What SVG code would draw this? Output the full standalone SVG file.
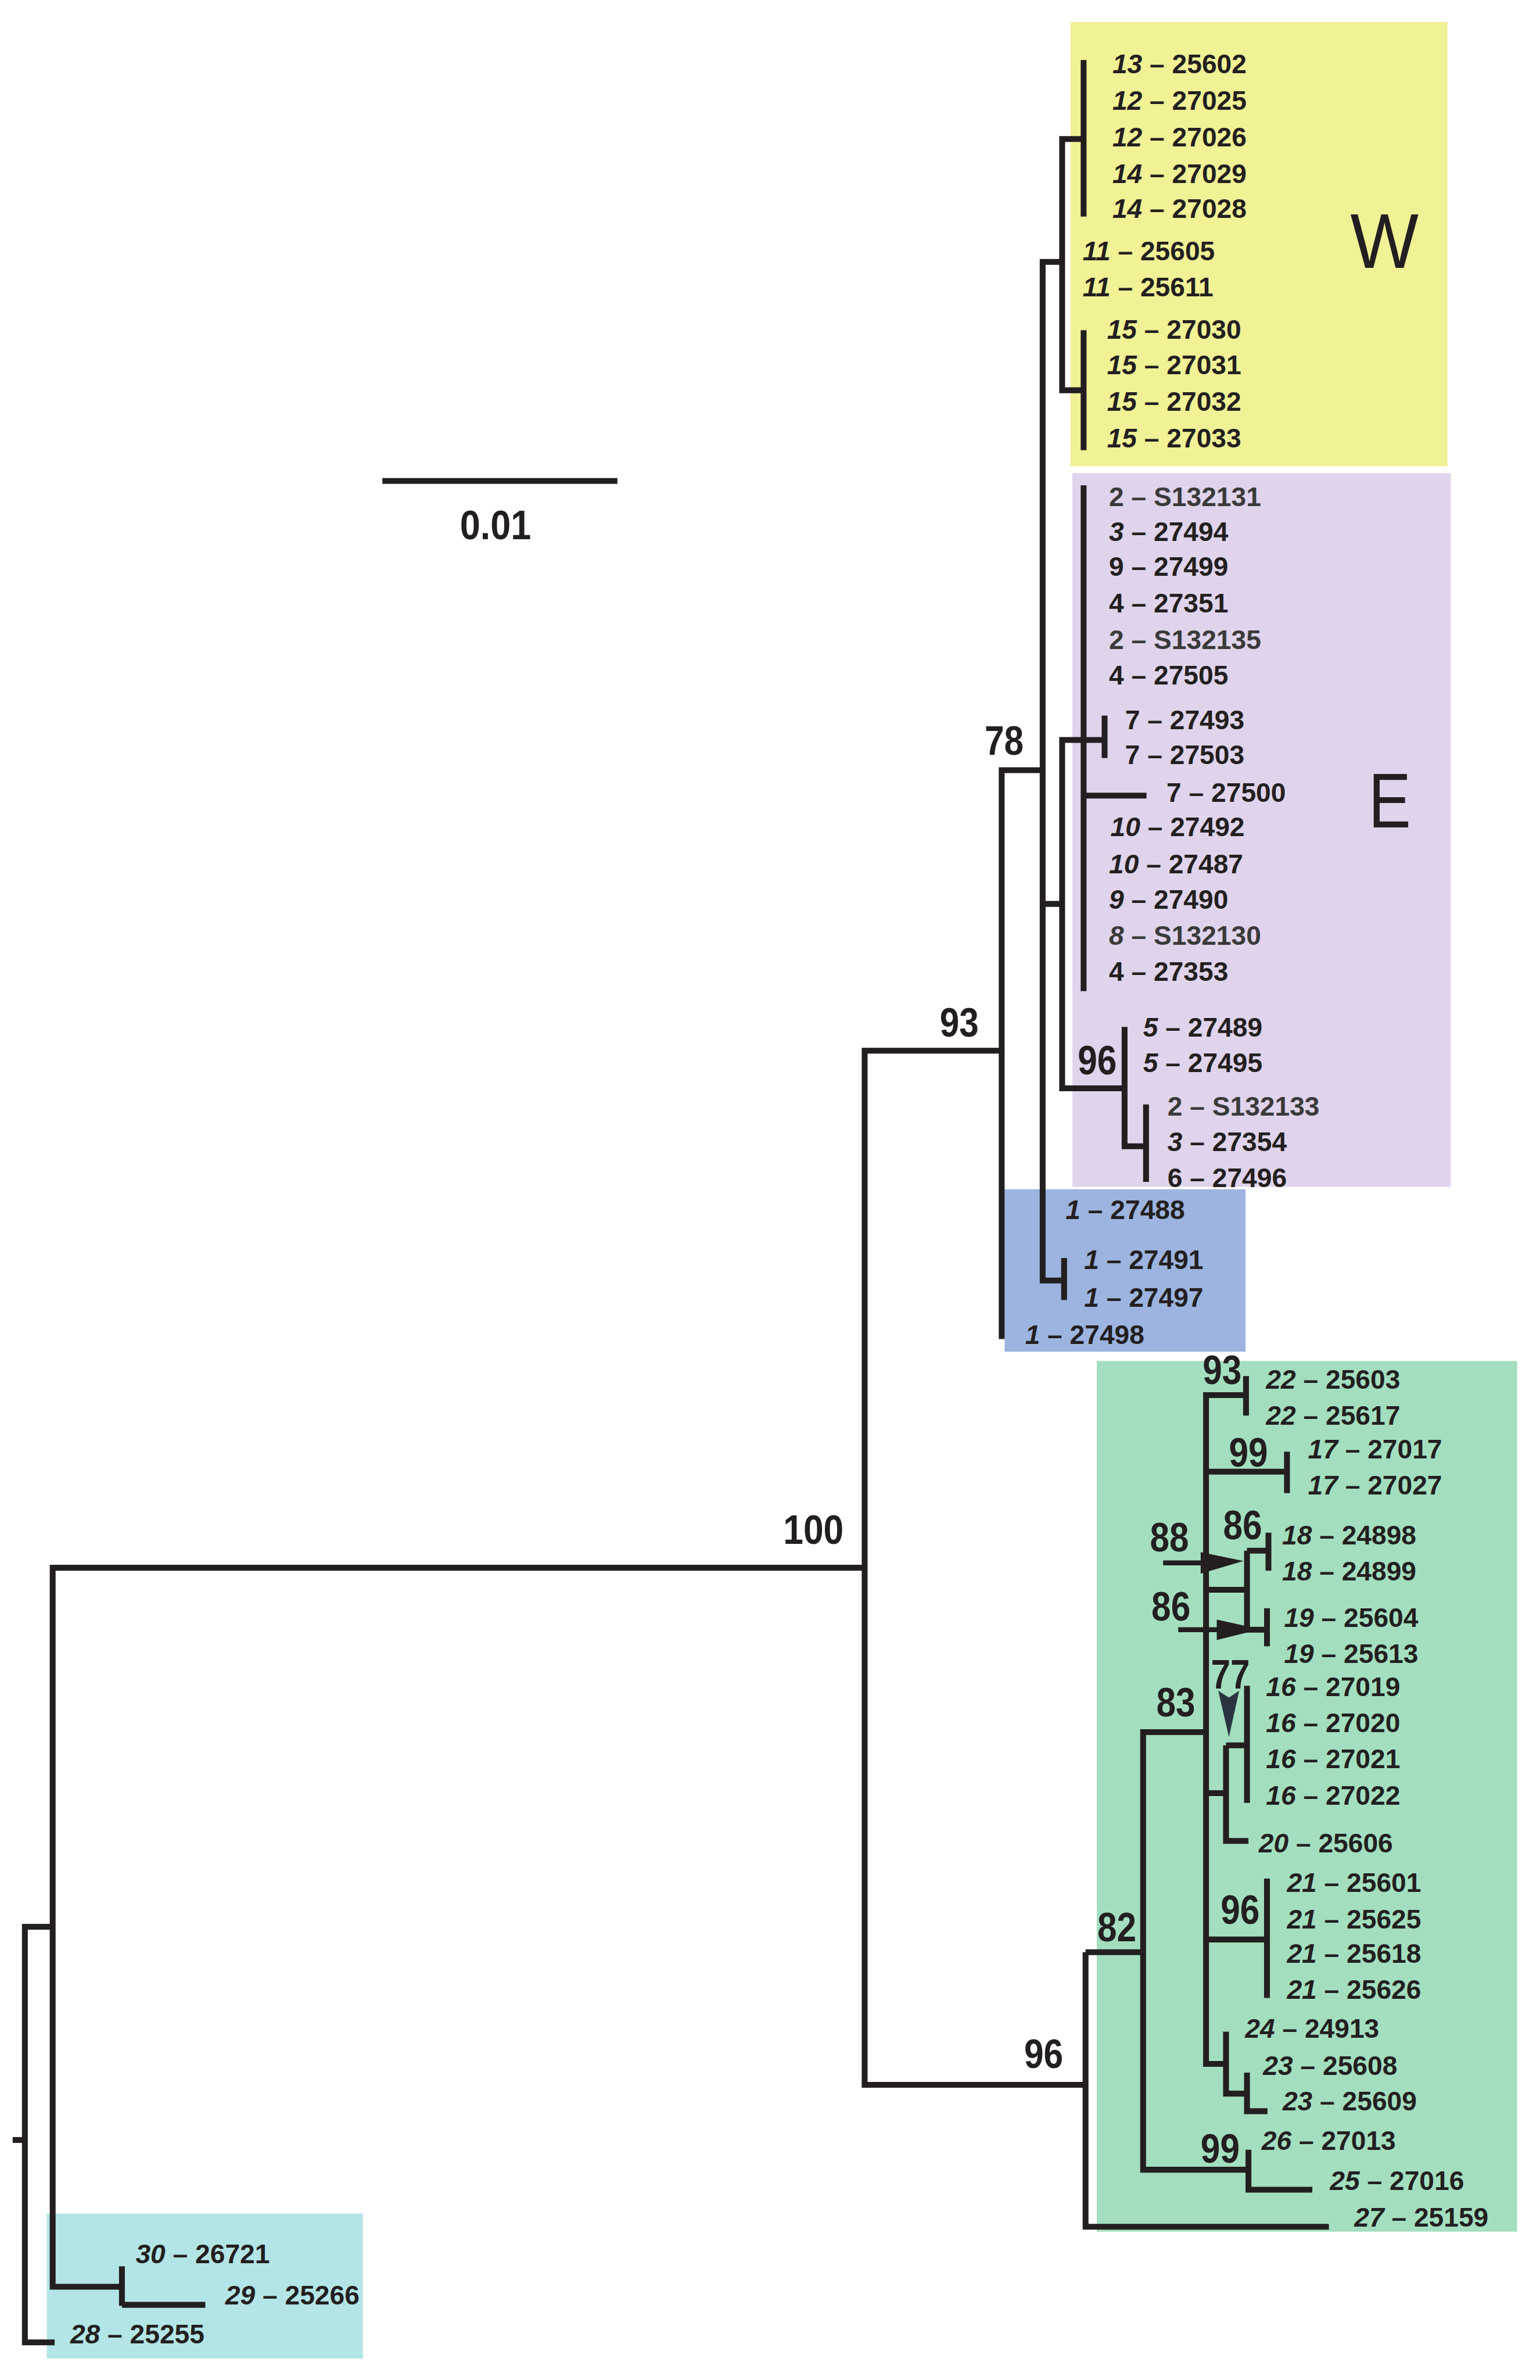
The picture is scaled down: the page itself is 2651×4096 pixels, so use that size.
<svg xmlns="http://www.w3.org/2000/svg" width="2651" height="4096" viewBox="0 0 2651 4096">
<style>
.lf{font-family:"Liberation Sans",Arial,sans-serif;font-weight:bold;font-size:55px;fill:#231f20}
.s{fill:#3a3a3a}
.it{font-style:italic}
.sp{font-family:"Liberation Sans",Arial,sans-serif;font-weight:bold;font-size:84px;fill:#231f20}
.big{font-family:"Liberation Sans",Arial,sans-serif;font-weight:normal;font-size:160px;fill:#231f20}
.br{fill:none;stroke:#231f20;stroke-width:12;stroke-linejoin:miter;stroke-linecap:butt}
</style>
<rect width="2651" height="4096" fill="#ffffff"/>
<g transform="scale(0.8395)">
<g id="backgrounds">
<rect x="2195" y="45" width="773" height="911" fill="#f1f196"/>
<rect x="2199" y="970" width="776" height="1463" fill="#dfd4ec"/>
<rect x="2060" y="2438" width="494" height="333" fill="#9cb4df"/>
<rect x="2249" y="2790" width="862" height="1785" fill="#a3dfbf"/>
<rect x="96" y="4538" width="648" height="297" fill="#b3e5e6"/>
</g>
<g id="connectors" class="br">
<path d="M26 4387 H51"/>
<path d="M108 3950 H51 V4802 H112"/>
<path d="M1773 3214 H108 V4688 H250"/>
<path d="M250 4646 V4727"/>
<path d="M250 4725 H421"/>
<path d="M2054 2154 H1773 V4274 H2226"/>
<path d="M2138 1579 H2054 V2745"/>
<path d="M2178 537 H2138 V2625 H2182"/>
<path d="M2182 2579 V2665"/>
<path d="M2222 285 H2178 V800 H2222"/>
<path d="M2222 123 V444"/>
<path d="M2222 677 V923"/>
<path d="M2138 1853 H2178"/>
<path d="M2265 1517 H2178 V2231 H2306"/>
<path d="M2222 995 V2032"/>
<path d="M2265 1467 V1554"/>
<path d="M2221 1631 H2351"/>
<path d="M2306 2105 V2350 H2350"/>
<path d="M2350 2264 V2423"/>
<path d="M2226 4002 H2344"/>
<path d="M2473 3551 H2344 V4448 H2560"/>
<path d="M2226 4002 V4565 H2725"/>
<path d="M2560 4407 V4489 H2691"/>
<path d="M2555 2821 V2902"/>
<path d="M2555 2860 H2473 V4231 H2514"/>
<path d="M2514 4165 V4292 H2557"/>
<path d="M2557 4249 V4328 H2599"/>
<path d="M2473 3017 H2639"/>
<path d="M2639 2976 V3061"/>
<path d="M2473 3259 H2557"/>
<path d="M2557 3179 V3341 H2598"/>
<path d="M2557 3179 H2601"/>
<path d="M2601 3142 V3220"/>
<path d="M2598 3297 V3375"/>
<path d="M2473 3676 H2514"/>
<path d="M2514 3578 V3774 H2560"/>
<path d="M2514 3578 H2557"/>
<path d="M2557 3456 V3696"/>
<path d="M2473 3976 H2598"/>
<path d="M2598 3851 V4096"/>
</g>
<g id="arrows">
<path d="M2385 3204 H2470" stroke="#231f20" stroke-width="10"/>
<polygon points="2462,3182 2550,3200 2462,3226" fill="#231f20"/>
<path d="M2416 3341 H2500" stroke="#231f20" stroke-width="10"/>
<polygon points="2495,3320 2584,3340 2495,3362" fill="#231f20"/>
<polygon points="2498,3466 2520,3480 2541,3466 2520,3561" fill="#2a3440"/>
</g>
<g id="scale-bar">
<path d="M784 986 H1266" stroke="#231f20" stroke-width="12"/>
<text class="sp" x="1016" y="1106" text-anchor="middle" textLength="146" lengthAdjust="spacingAndGlyphs">0.01</text>
</g>
<g id="clade-labels">
<text class="big" x="2769" y="549" textLength="140" lengthAdjust="spacingAndGlyphs">W</text>
<text class="big" x="2806" y="1696" textLength="87" lengthAdjust="spacingAndGlyphs">E</text>
</g>
<g id="support-values">
<text class="sp" x="1606" y="3165" textLength="124" lengthAdjust="spacingAndGlyphs">100</text>
<text class="sp" x="1927" y="2125" textLength="80" lengthAdjust="spacingAndGlyphs">93</text>
<text class="sp" x="2019" y="1547" textLength="80" lengthAdjust="spacingAndGlyphs">78</text>
<text class="sp" x="2210" y="2202" textLength="80" lengthAdjust="spacingAndGlyphs">96</text>
<text class="sp" x="2100" y="4240" textLength="80" lengthAdjust="spacingAndGlyphs">96</text>
<text class="sp" x="2250" y="3980" textLength="80" lengthAdjust="spacingAndGlyphs">82</text>
<text class="sp" x="2462" y="4434" textLength="80" lengthAdjust="spacingAndGlyphs">99</text>
<text class="sp" x="2503" y="3944" textLength="80" lengthAdjust="spacingAndGlyphs">96</text>
<text class="sp" x="2466" y="2837" textLength="80" lengthAdjust="spacingAndGlyphs">93</text>
<text class="sp" x="2520" y="3006" textLength="80" lengthAdjust="spacingAndGlyphs">99</text>
<text class="sp" x="2508" y="3155" textLength="80" lengthAdjust="spacingAndGlyphs">86</text>
<text class="sp" x="2358" y="3180" textLength="80" lengthAdjust="spacingAndGlyphs">88</text>
<text class="sp" x="2361" y="3322" textLength="80" lengthAdjust="spacingAndGlyphs">86</text>
<text class="sp" x="2483" y="3462" textLength="80" lengthAdjust="spacingAndGlyphs">77</text>
<text class="sp" x="2371" y="3519" textLength="80" lengthAdjust="spacingAndGlyphs">83</text>
</g>
<g id="leaves">
<g id="leaf-13-25602"><text class="lf" x="2281" y="150"><tspan class="it">13</tspan> – 25602</text></g>
<g id="leaf-12-27025"><text class="lf" x="2281" y="225"><tspan class="it">12</tspan> – 27025</text></g>
<g id="leaf-12-27026"><text class="lf" x="2281" y="300"><tspan class="it">12</tspan> – 27026</text></g>
<g id="leaf-14-27029"><text class="lf" x="2281" y="375"><tspan class="it">14</tspan> – 27029</text></g>
<g id="leaf-14-27028"><text class="lf" x="2281" y="447"><tspan class="it">14</tspan> – 27028</text></g>
<g id="leaf-11-25605"><text class="lf" x="2220" y="534"><tspan class="it">11</tspan> – 25605</text></g>
<g id="leaf-11-25611"><text class="lf" x="2220" y="608"><tspan class="it">11</tspan> – 25611</text></g>
<g id="leaf-15-27030"><text class="lf" x="2270" y="695"><tspan class="it">15</tspan> – 27030</text></g>
<g id="leaf-15-27031"><text class="lf" x="2270" y="767"><tspan class="it">15</tspan> – 27031</text></g>
<g id="leaf-15-27032"><text class="lf" x="2270" y="842"><tspan class="it">15</tspan> – 27032</text></g>
<g id="leaf-15-27033"><text class="lf" x="2270" y="917"><tspan class="it">15</tspan> – 27033</text></g>
<g id="leaf-2-S132131"><text class="lf s" x="2274" y="1037">2 – S132131</text></g>
<g id="leaf-3-27494"><text class="lf" x="2274" y="1109"><tspan class="it">3</tspan> – 27494</text></g>
<g id="leaf-9-27499"><text class="lf" x="2274" y="1181">9 – 27499</text></g>
<g id="leaf-4-27351"><text class="lf" x="2274" y="1256">4 – 27351</text></g>
<g id="leaf-2-S132135"><text class="lf s" x="2274" y="1331">2 – S132135</text></g>
<g id="leaf-4-27505"><text class="lf" x="2274" y="1403">4 – 27505</text></g>
<g id="leaf-7-27493"><text class="lf" x="2307" y="1495">7 – 27493</text></g>
<g id="leaf-7-27503"><text class="lf" x="2307" y="1567">7 – 27503</text></g>
<g id="leaf-7-27500"><text class="lf" x="2392" y="1644">7 – 27500</text></g>
<g id="leaf-10-27492"><text class="lf" x="2277" y="1714"><tspan class="it">10</tspan> – 27492</text></g>
<g id="leaf-10-27487"><text class="lf" x="2274" y="1790"><tspan class="it">10</tspan> – 27487</text></g>
<g id="leaf-9-27490"><text class="lf" x="2274" y="1863"><tspan class="it">9</tspan> – 27490</text></g>
<g id="leaf-8-S132130"><text class="lf s" x="2274" y="1937"><tspan class="it">8</tspan> – S132130</text></g>
<g id="leaf-4-27353"><text class="lf" x="2274" y="2011">4 – 27353</text></g>
<g id="leaf-5-27489"><text class="lf" x="2344" y="2125"><tspan class="it">5</tspan> – 27489</text></g>
<g id="leaf-5-27495"><text class="lf" x="2344" y="2198"><tspan class="it">5</tspan> – 27495</text></g>
<g id="leaf-2-S132133"><text class="lf s" x="2394" y="2287">2 – S132133</text></g>
<g id="leaf-3-27354"><text class="lf" x="2394" y="2360"><tspan class="it">3</tspan> – 27354</text></g>
<g id="leaf-6-27496"><text class="lf" x="2394" y="2433">6 – 27496</text></g>
<g id="leaf-1-27488"><text class="lf" x="2185" y="2499"><tspan class="it">1</tspan> – 27488</text></g>
<g id="leaf-1-27491"><text class="lf" x="2223" y="2602"><tspan class="it">1</tspan> – 27491</text></g>
<g id="leaf-1-27497"><text class="lf" x="2223" y="2679"><tspan class="it">1</tspan> – 27497</text></g>
<g id="leaf-1-27498"><text class="lf" x="2102" y="2755"><tspan class="it">1</tspan> – 27498</text></g>
<g id="leaf-22-25603"><text class="lf" x="2596" y="2847"><tspan class="it">22</tspan> – 25603</text></g>
<g id="leaf-22-25617"><text class="lf" x="2596" y="2921"><tspan class="it">22</tspan> – 25617</text></g>
<g id="leaf-17-27017"><text class="lf" x="2682" y="2990"><tspan class="it">17</tspan> – 27017</text></g>
<g id="leaf-17-27027"><text class="lf" x="2682" y="3064"><tspan class="it">17</tspan> – 27027</text></g>
<g id="leaf-18-24898"><text class="lf" x="2629" y="3166"><tspan class="it">18</tspan> – 24898</text></g>
<g id="leaf-18-24899"><text class="lf" x="2629" y="3240"><tspan class="it">18</tspan> – 24899</text></g>
<g id="leaf-19-25604"><text class="lf" x="2633" y="3335"><tspan class="it">19</tspan> – 25604</text></g>
<g id="leaf-19-25613"><text class="lf" x="2633" y="3409"><tspan class="it">19</tspan> – 25613</text></g>
<g id="leaf-16-27019"><text class="lf" x="2596" y="3477"><tspan class="it">16</tspan> – 27019</text></g>
<g id="leaf-16-27020"><text class="lf" x="2596" y="3551"><tspan class="it">16</tspan> – 27020</text></g>
<g id="leaf-16-27021"><text class="lf" x="2596" y="3625"><tspan class="it">16</tspan> – 27021</text></g>
<g id="leaf-16-27022"><text class="lf" x="2596" y="3700"><tspan class="it">16</tspan> – 27022</text></g>
<g id="leaf-20-25606"><text class="lf" x="2581" y="3798"><tspan class="it">20</tspan> – 25606</text></g>
<g id="leaf-21-25601"><text class="lf" x="2639" y="3879"><tspan class="it">21</tspan> – 25601</text></g>
<g id="leaf-21-25625"><text class="lf" x="2639" y="3953"><tspan class="it">21</tspan> – 25625</text></g>
<g id="leaf-21-25618"><text class="lf" x="2639" y="4024"><tspan class="it">21</tspan> – 25618</text></g>
<g id="leaf-21-25626"><text class="lf" x="2639" y="4098"><tspan class="it">21</tspan> – 25626</text></g>
<g id="leaf-24-24913"><text class="lf" x="2553" y="4178"><tspan class="it">24</tspan> – 24913</text></g>
<g id="leaf-23-25608"><text class="lf" x="2590" y="4254"><tspan class="it">23</tspan> – 25608</text></g>
<g id="leaf-23-25609"><text class="lf" x="2630" y="4326"><tspan class="it">23</tspan> – 25609</text></g>
<g id="leaf-26-27013"><text class="lf" x="2587" y="4407"><tspan class="it">26</tspan> – 27013</text></g>
<g id="leaf-25-27016"><text class="lf" x="2727" y="4489"><tspan class="it">25</tspan> – 27016</text></g>
<g id="leaf-27-25159"><text class="lf" x="2777" y="4565"><tspan class="it">27</tspan> – 25159</text></g>
<g id="leaf-30-26721"><text class="lf" x="278" y="4640"><tspan class="it">30</tspan> – 26721</text></g>
<g id="leaf-29-25266"><text class="lf" x="462" y="4724"><tspan class="it">29</tspan> – 25266</text></g>
<g id="leaf-28-25255"><text class="lf" x="144" y="4804"><tspan class="it">28</tspan> – 25255</text></g>
</g>
</g>
</svg>
